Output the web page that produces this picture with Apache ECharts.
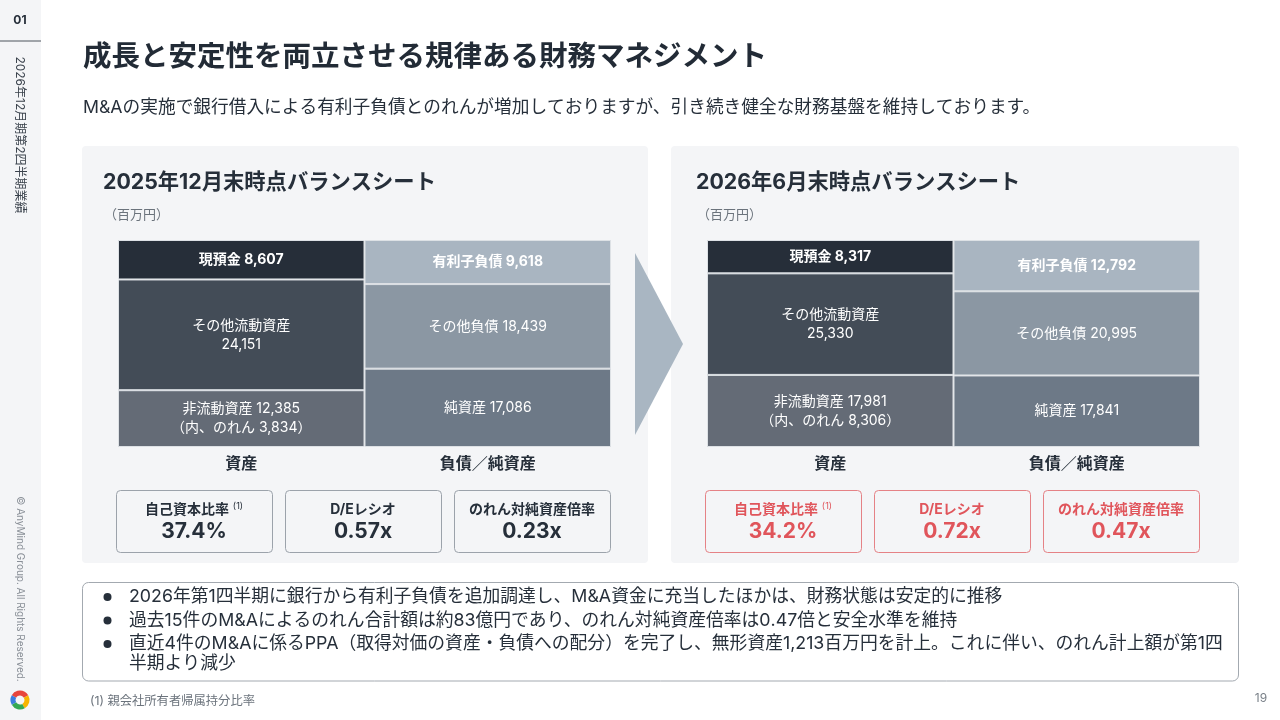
<!DOCTYPE html>
<html>
<head>
<meta charset="utf-8">
<script src="https://cdn.jsdelivr.net/npm/echarts@6/dist/echarts.min.js"></script>
<style>html,body{margin:0;padding:0;background:#fff;}#c{width:1280px;height:720px;}</style>
</head>
<body>
<div id="c"></div>
<script>
// ---- data ----
const columns = ['資産', '負債／純資産'];
const assetNames = ['現預金', 'その他流動資産', '非流動資産'];
const liabNames = ['有利子負債', 'その他負債', '純資産'];
const assets2025 = [8607, 24151, 12385];
const liabs2025 = [9618, 18439, 17086];
const goodwill2025 = 3834;
const assets2026 = [8317, 25330, 17981];
const liabs2026 = [12792, 20995, 17841];
const goodwill2026 = 8306;
const kpiLabels = ['自己資本比率', 'D/Eレシオ', 'のれん対純資産倍率'];
const kpi2025 = ['37.4%', '0.57x', '0.23x'];
const kpi2026 = ['34.2%', '0.72x', '0.47x'];
const panelTitles = ['2025年12月末時点バランスシート', '2026年6月末時点バランスシート'];
const notes = [
  '2026年第1四半期に銀行から有利子負債を追加調達し、M&A資金に充当したほかは、財務状態は安定的に推移',
  '過去15件のM&Aによるのれん合計額は約83億円であり、のれん対純資産倍率は0.47倍と安全水準を維持',
  '直近4件のM&Aに係るPPA（取得対価の資産・負債への配分）を完了し、無形資産1,213百万円を計上。これに伴い、のれん計上額が第1四\n半期より減少'
];

// ---- style ----
const FF = "Inter, 'Noto Sans CJK JP', 'Noto Sans', sans-serif";
const DARK = '#262f3a';
const GRAY = '#6b737c';
const RED = '#e0555b';
const assetColors = ['#262e39', '#434c57', '#646b76'];
const liabColors = ['#a9b5c1', '#8b97a3', '#6d7987'];
const fmt = v => v.toLocaleString('en-US');
const sum = a => a.reduce((s, v) => s + v, 0);

function T(x, y, text, size, o) {
  o = o || {};
  return {
    type: 'text', x: x, y: y, rotation: o.rot || 0, z: 100, silent: true,
    style: {
      text: text, fill: o.color || DARK, fontSize: size,
      fontWeight: o.bold ? 'bold' : 'normal', fontFamily: FF,
      align: o.align || 'left', verticalAlign: o.va || 'middle',
      lineHeight: o.lh, rich: o.rich
    }
  };
}
function R(x, y, w, h, o) {
  return { type: 'rect', z: o.z || 0, silent: true, shape: { x: x, y: y, width: w, height: h, r: o.r || 0 },
    style: { fill: o.fill || 'none', stroke: o.stroke || null, lineWidth: o.lw || 0 } };
}

const gridDefs = [
  { left: 118, assets: assets2025, liabs: liabs2025, goodwill: goodwill2025 },
  { left: 707, assets: assets2026, liabs: liabs2026, goodwill: goodwill2026 }
];

const series = [];
gridDefs.forEach((g, gi) => {
  [2, 1, 0].forEach(k => {
    series.push({
      type: 'bar', xAxisIndex: gi, yAxisIndex: gi, stack: 'bs' + gi,
      barCategoryGap: '0%',
      itemStyle: { borderColor: '#dde1e5', borderWidth: 1 },
      data: [
        { value: g.assets[k], itemStyle: { color: assetColors[k] } },
        { value: g.liabs[k], itemStyle: { color: liabColors[k] } }
      ],
      label: {
        show: true, position: 'inside', color: '#ffffff', fontSize: 14,
        fontFamily: FF, fontWeight: k === 0 ? 'bold' : 'normal', lineHeight: 19,
        formatter: p => {
          const col = p.dataIndex;
          const name = col === 0 ? assetNames[k] : liabNames[k];
          const v = fmt(p.value);
          if (col === 0 && k === 1) return name + '\n' + v;
          if (col === 0 && k === 2) return name + ' ' + v + '\n（内、のれん ' + fmt(g.goodwill) + '）';
          return name + ' ' + v;
        }
      }
    });
  });
});

const graphic = [];
// sidebar
graphic.push(R(0, 0, 41, 720, { fill: '#f4f5f7' }));
graphic.push({ type: 'line', z: 1, silent: true, shape: { x1: 0, y1: 41, x2: 41, y2: 41 }, style: { stroke: '#4d545c', lineWidth: 1 } });
graphic.push(T(20, 20, '01', 12, { align: 'center', bold: true }));
graphic.push(T(20, 135, '2026年12月期第2四半期業績', 12, { align: 'center', rot: -Math.PI / 2, color: '#3a424c' }));
graphic.push(T(20, 589, '© AnyMind Group. All Rights Reserved.', 10, { align: 'center', rot: -Math.PI / 2, color: '#8a9098' }));
// logo
const logoSegs = [['#e8453c', -150, -30], ['#f6b500', -30, 60], ['#34a853', 60, 150], ['#3b7ddd', 150, 210]];
logoSegs.forEach(s => {
  graphic.push({ type: 'sector', z: 5, silent: true,
    shape: { cx: 20, cy: 700, r: 9.5, r0: 4.5, startAngle: s[1] * Math.PI / 180, endAngle: s[2] * Math.PI / 180 },
    style: { fill: s[0] } });
});

// title
graphic.push(T(83, 57, '成長と安定性を両立させる規律ある財務マネジメント', 28.5, { bold: true, color: '#222b36' }));
graphic.push(T(83, 108, 'M&Aの実施で銀行借入による有利子負債とのれんが増加しておりますが、引き続き健全な財務基盤を維持しております。', 17.7));

// panels
graphic.push(R(82, 146, 566, 417, { fill: '#f4f5f7', r: 4 }));
graphic.push(R(671, 146, 568, 417, { fill: '#f4f5f7', r: 4 }));
graphic.push({ type: 'polygon', z: 1, silent: true, shape: { points: [[635, 253], [683, 344], [635, 435]] }, style: { fill: '#a9b6c2' } });

const panelX = [103, 696];
panelTitles.forEach((t, i) => {
  graphic.push(T(panelX[i], 183, t, 21.3, { bold: true }));
  graphic.push(T(panelX[i] + 1, 215, '（百万円）', 13, { color: GRAY }));
});

// KPI boxes
const kpiX = [[116, 285, 454], [705, 874, 1043]];
[kpi2025, kpi2026].forEach((vals, pi) => {
  const col = pi === 0 ? DARK : RED;
  const stroke = pi === 0 ? '#9ca3ab' : '#e58286';
  kpiX[pi].forEach((x, j) => {
    graphic.push(R(x + 0.5, 490.5, 156, 62, { fill: '#f4f5f7', stroke: stroke, lw: 1, r: 4, z: 2 }));
    const cx = x + 78;
    if (j === 0) {
      graphic.push(T(cx, 510, '{a|' + kpiLabels[j] + '} {s|(1)}', 14, {
        align: 'center', color: col,
        rich: { a: { fontSize: 14, fontWeight: 'bold', fill: col, color: col, fontFamily: FF },
                s: { fontSize: 9, fill: col, color: col, fontFamily: FF, padding: [0, 0, 8, 0] } }
      }));
    } else {
      graphic.push(T(cx, 510, kpiLabels[j], 14, { align: 'center', bold: true, color: col }));
    }
    graphic.push(T(cx, 531.5, vals[j], 21, { align: 'center', bold: true, color: col }));
  });
});

// notes box
graphic.push(R(82.5, 582.5, 1156, 98.5, { fill: '#ffffff', stroke: '#a3a9b0', lw: 1, r: 6, z: 2 }));
const noteY = [597, 620.5, 644];
notes.forEach((n, i) => {
  graphic.push({ type: 'circle', z: 10, silent: true, shape: { cx: 107.5, cy: noteY[i], r: 4 }, style: { fill: DARK } });
  graphic.push({
    type: 'text', x: 129, y: noteY[i] - 10, z: 100, silent: true,
    style: { text: n, fill: DARK, fontSize: 17.8, fontFamily: FF, align: 'left', verticalAlign: 'top', lineHeight: 20 }
  });
});
graphic.push(T(90, 701, '(1) 親会社所有者帰属持分比率', 12.3, { color: GRAY }));
graphic.push(T(1261, 698, '19', 12, { align: 'center', color: '#7a8189' }));

const option = {
  animation: false,
  backgroundColor: '#ffffff',
  graphic: { elements: graphic },
  grid: gridDefs.map(g => ({ left: g.left, top: 240, width: 493, height: 207 })),
  xAxis: gridDefs.map((g, gi) => ({
    type: 'category', gridIndex: gi, data: columns,
    axisLine: { show: false }, axisTick: { show: false },
    axisLabel: { color: DARK, fontSize: 16, fontWeight: 'bold', fontFamily: FF, margin: 9 }
  })),
  yAxis: gridDefs.map((g, gi) => ({
    type: 'value', gridIndex: gi, min: 0, max: sum(g.assets), show: false, splitLine: { show: false }
  })),
  series: series
};

const chart = echarts.init(document.getElementById('c'), null, { renderer: 'canvas' });
chart.setOption(option);
</script>
</body>
</html>
